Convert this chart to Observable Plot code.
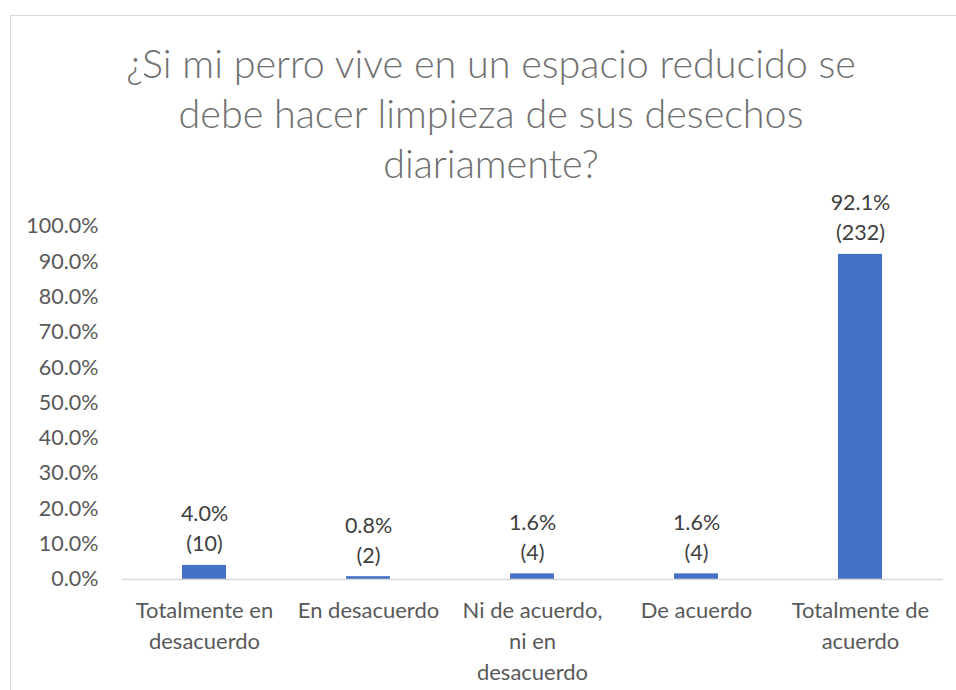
<!DOCTYPE html>
<html>
<head>
<meta charset="utf-8">
<script src="https://cdn.jsdelivr.net/npm/d3@7"></script>
<script src="https://cdn.jsdelivr.net/npm/@observablehq/plot@0.6"></script>
<style>
  html, body { margin: 0; padding: 0; background: #fff; }
  #wrap { position: relative; width: 956px; height: 690px; overflow: hidden; font-family: Lato, "Open Sans", sans-serif; }
  #frame { position: absolute; left: 10px; top: 15px; width: 960px; height: 700px; border: 1px solid #d9d9d9; box-sizing: border-box; }
  #title { position: absolute; left: 41px; width: 900px; top: 38px; text-align: center; color: #707070; font-family: Lato, sans-serif; font-weight: 300; font-size: 39.5px; line-height: 50px; }
  #chart { position: absolute; left: 0; top: 0; }
</style>
</head>
<body>
<div id="wrap">
  <div id="frame"></div>
  <div id="chart"></div>
  <div id="title">¿Si mi perro vive en un espacio reducido se<br>debe hacer limpieza de sus desechos<br>diariamente?</div>
</div>
<script>
const categories = ["Totalmente en desacuerdo", "En desacuerdo", "Ni de acuerdo, ni en desacuerdo", "De acuerdo", "Totalmente de acuerdo"];
const categoryLabels = ["Totalmente en\ndesacuerdo", "En desacuerdo", "Ni de acuerdo,\nni en\ndesacuerdo", "De acuerdo", "Totalmente de\nacuerdo"];
const percentages = [4.0, 0.8, 1.6, 1.6, 92.1];
const counts = [10, 2, 4, 4, 232];
const yTicks = [0, 10, 20, 30, 40, 50, 60, 70, 80, 90, 100];

const data = categories.map((c, i) => ({
  category: c,
  label: categoryLabels[i],
  value: percentages[i] / 100,
  text: percentages[i].toFixed(1) + "%\n(" + counts[i] + ")"
}));

const chart = Plot.plot({
  width: 956,
  height: 690,
  marginLeft: 122,
  marginRight: 13,
  marginTop: 226,
  marginBottom: 111,
  style: { fontFamily: "Lato, 'Open Sans', sans-serif", color: "#595959", background: "transparent" },
  x: { domain: categories, paddingInner: 0.73, paddingOuter: 0.365, axis: null },
  y: { domain: [0, 1], axis: null },
  marks: [
    Plot.axisY(yTicks.map(t => t / 100), {
      tickSize: 0, tickPadding: 24, fontSize: 21.5, fill: "#595959", label: null,
      tickFormat: d => (d * 100).toFixed(1) + "%"
    }),
    Plot.barY(data, { x: "category", y: "value", fill: "#4472C4" }),
    Plot.ruleY([0], { stroke: "#d9d9d9", strokeWidth: 1.5 }),
    Plot.text(data, {
      x: "category", y: "value", text: "text",
      lineAnchor: "bottom", dy: -14, lineHeight: 1.4,
      fontSize: 21.5, fill: "#404040"
    }),
    Plot.text(data, {
      x: "category", y: () => 0, text: "label",
      lineAnchor: "top", dy: 17, lineHeight: 1.4,
      fontSize: 22, fill: "#595959"
    })
  ]
});
document.getElementById("chart").appendChild(chart);
</script>
</body>
</html>
